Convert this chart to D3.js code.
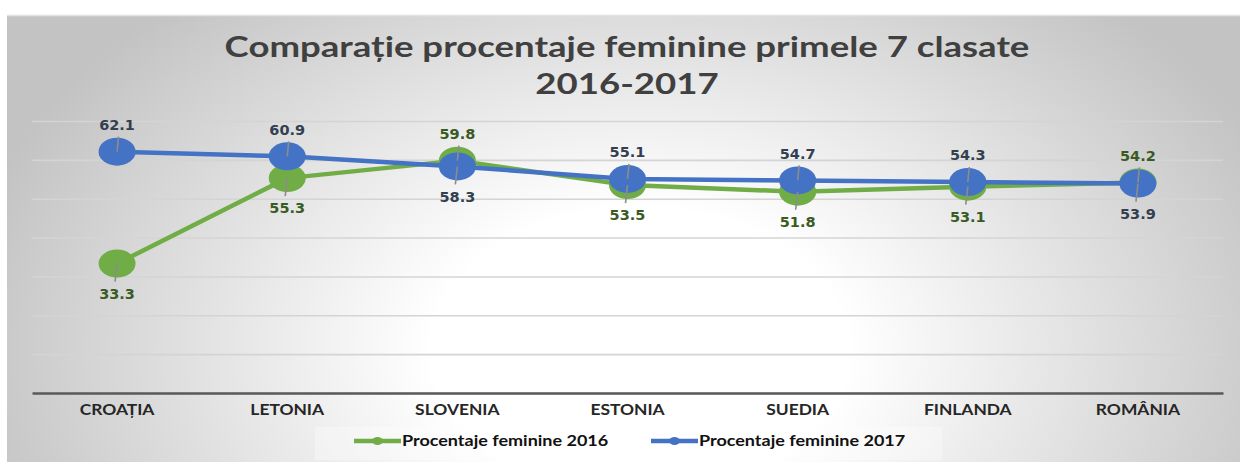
<!DOCTYPE html>
<html>
<head>
<meta charset="utf-8">
<script src="https://cdn.jsdelivr.net/npm/d3@7"></script>
<style>
html,body{margin:0;padding:0;background:#ffffff;}
svg{display:block;}
</style>
</head>
<body>
<svg id="chart" width="1240" height="462"></svg>
<script>
const categories = ["CROAȚIA","LETONIA","SLOVENIA","ESTONIA","SUEDIA","FINLANDA","ROMÂNIA"];
const values2016 = [33.3,55.3,59.8,53.5,51.8,53.1,54.2];
const values2017 = [62.1,60.9,58.3,55.1,54.7,54.3,53.9];
const yTicks = [0,10,20,30,40,50,60,70];
const seriesNames = ["Procentaje feminine 2016","Procentaje feminine 2017"];
const titleLines = ["Comparație procentaje feminine primele 7 clasate","2016-2017"];

const svg = d3.select("#chart");
const W = 1240, H = 462;
const plot = {left:32, right:1223, top:121, bottom:393};

const defs = svg.append("defs");
const grad = defs.append("radialGradient").attr("id","bg")
  .attr("gradientUnits","userSpaceOnUse")
  .attr("cx",0).attr("cy",0).attr("r",1)
  .attr("gradientTransform","translate(640,350) scale(690,470)");
grad.append("stop").attr("offset","0").attr("stop-color","#ffffff");
grad.append("stop").attr("offset","0.3").attr("stop-color","#ffffff");
grad.append("stop").attr("offset","1").attr("stop-color","#c3c3c3");

svg.append("rect").attr("x",7).attr("y",15).attr("width",W-7).attr("height",H-15)
  .attr("fill","url(#bg)");
svg.append("line").attr("x1",7).attr("x2",W).attr("y1",15.5).attr("y2",15.5)
  .attr("stroke","#e2e2e2").attr("stroke-width",1.5);

// title (horizontally stretched like the reference)
titleLines.forEach((t,i)=>{
  svg.append("g").attr("transform",`translate(627,${57+i*37}) scale(1.24,1)`)
    .append("text").attr("text-anchor","middle")
    .attr("font-family","Lato, 'Open Sans', sans-serif").attr("font-weight","bold")
    .attr("font-size",29.5).attr("fill","#404040").text(t);
});

const x = d3.scaleBand().domain(categories).range([plot.left,plot.right]);
const y = d3.scaleLinear().domain([0,70]).range([plot.bottom,plot.top]);
const cx = c => x(c)+x.bandwidth()/2;

// gridlines
const grid = svg.append("g").attr("transform",`translate(${plot.left},0)`)
  .call(d3.axisLeft(y).tickValues(yTicks).tickSize(-(plot.right-plot.left)).tickFormat(""));
grid.select(".domain").remove();
grid.selectAll(".tick line").attr("stroke","#d4d4d4").attr("stroke-width",1.6);

// x axis
const xa = svg.append("g").attr("transform",`translate(0,${plot.bottom})`)
  .call(d3.axisBottom(x).tickSize(0).tickPadding(11));
xa.select(".domain").attr("stroke","#595959").attr("stroke-width",2.5);
xa.selectAll(".tick text").attr("font-family","Lato, sans-serif").attr("font-weight","bold")
  .attr("font-size",15).attr("fill","#262626").attr("transform","scale(1.16,1)");

const series = [
  {name:seriesNames[0], values:values2016, color:"#70ad47", labelColor:"#3a5a24"},
  {name:seriesNames[1], values:values2017, color:"#4472c4", labelColor:"#333f50"}
];

const line = d3.line().x((d,i)=>cx(categories[i])).y(d=>y(d));

series.forEach(s=>{
  svg.append("path").datum(s.values).attr("d",line)
    .attr("fill","none").attr("stroke",s.color).attr("stroke-width",4.5)
    .attr("stroke-linejoin","round");
  svg.append("g").selectAll("ellipse").data(s.values).join("ellipse")
    .attr("cx",(d,i)=>cx(categories[i])).attr("cy",d=>y(d))
    .attr("rx",18.5).attr("ry",14).attr("fill",s.color);
});

// labels + leader lines
const labelG = svg.append("g");
series.forEach((s,si)=>{
  const other = series[1-si].values;
  s.values.forEach((v,i)=>{
    const above = v >= other[i];
    const px = cx(categories[i]), py = y(v);
    const ly = above ? py-27 : py+30;
    labelG.append("line")
      .attr("x1",px).attr("y1",py)
      .attr("x2",px + (above?1.5:-2)).attr("y2", above ? ly+12 : ly-12)
      .attr("stroke","#8c8c8c").attr("stroke-width",1.6);
    labelG.append("text").attr("x",px).attr("y",ly).attr("dy","0.36em")
      .attr("text-anchor","middle")
      .attr("font-family","'DejaVu Sans', Verdana, sans-serif").attr("font-weight","bold")
      .attr("font-size",14.5).attr("fill",s.labelColor).text(v.toFixed(1));
  });
});

// legend
svg.append("rect").attr("x",315).attr("y",427).attr("width",627).attr("height",33)
  .attr("fill","#ffffff").attr("opacity",0.3);
const legendX = [354, 651];
series.forEach((s,i)=>{
  const g = svg.append("g").attr("transform",`translate(${legendX[i]},441)`);
  g.append("line").attr("x1",0).attr("x2",47).attr("y1",0).attr("y2",0)
    .attr("stroke",s.color).attr("stroke-width",4.5);
  g.append("ellipse").attr("cx",23.5).attr("cy",0).attr("rx",5.5).attr("ry",4).attr("fill",s.color);
  g.append("g").attr("transform","translate(48,0) scale(1.2,1)")
    .append("text").attr("x",0).attr("y",0).attr("dy","0.36em")
    .attr("font-family","Lato, sans-serif").attr("font-weight","bold")
    .attr("font-size",15).attr("fill","#111111").text(s.name);
});
</script>
</body>
</html>
